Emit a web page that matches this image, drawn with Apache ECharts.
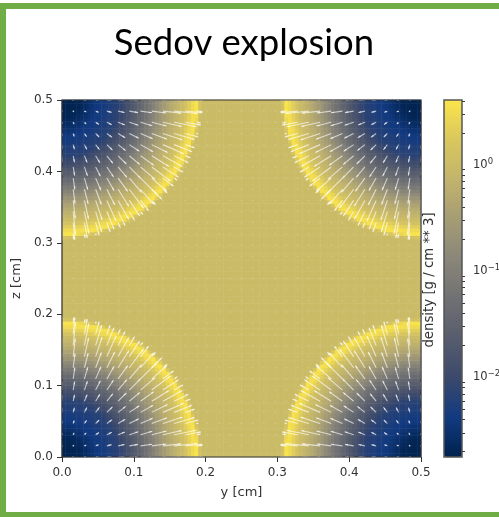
<!DOCTYPE html>
<html><head><meta charset="utf-8">
<style>html,body{margin:0;padding:0;background:#fff}#c{width:499px;height:517px;filter:blur(0.55px)}</style>
<script src="https://cdn.jsdelivr.net/npm/echarts@6/dist/echarts.min.js"></script>
</head><body><div id="c"></div>
<script>
const titleText = 'Sedov explosion';
const xName = 'y [cm]';
const yName = 'z [cm]';
const barName = 'density [g / cm ** 3]';
const barMajor = [0, -1, -2];
const barMinor = [0.602,0.477,0.301,-0.046,-0.097,-0.155,-0.222,-0.301,-0.398,-0.523,-0.699,-1.046,-1.097,-1.155,-1.222,-1.301,-1.398,-1.523,-1.699,-2.046,-2.097,-2.155,-2.222,-2.301,-2.398,-2.523,-2.699];
const logMin = -2.75, logMax = 0.61;
const cellCount = 100;
// log10(density) x100, corner octant of one blast, rows out from the corner;
// anything past the end of a row is the uniform ambient gas (10^0)
const densityOctant = [
[-274],
[-273,-273],
[-272,-272,-272],
[-272,-271,-271,-270],
[-270,-270,-269,-266,-262],
[-267,-266,-264,-261,-257,-253],
[-261,-260,-258,-256,-253,-249,-245],
[-255,-254,-253,-250,-248,-244,-240,-238],
[-249,-248,-247,-245,-242,-240,-237,-235,-232],
[-243,-242,-241,-240,-238,-236,-234,-232,-228,-225],
[-238,-237,-237,-236,-234,-233,-230,-227,-225,-222,-220],
[-234,-234,-233,-232,-230,-228,-226,-224,-222,-219,-217,-212],
[-230,-229,-228,-227,-226,-224,-223,-221,-219,-216,-211,-204,-197],
[-225,-225,-224,-223,-222,-221,-219,-217,-215,-209,-203,-196,-188,-180],
[-221,-221,-220,-219,-218,-217,-215,-211,-206,-200,-194,-187,-179,-172,-164],
[-217,-217,-216,-215,-213,-210,-206,-202,-197,-191,-185,-178,-171,-163,-155,-146],
[-209,-209,-207,-205,-203,-200,-196,-192,-187,-181,-175,-169,-162,-154,-145,-137,-129],
[-198,-198,-197,-195,-192,-189,-185,-181,-176,-171,-165,-159,-151,-144,-136,-128,-119,-109],
[-187,-187,-185,-183,-181,-178,-174,-170,-166,-160,-155,-148,-141,-134,-126,-118,-108,-98,-88],
[-175,-175,-174,-172,-170,-167,-163,-159,-155,-149,-143,-137,-131,-124,-116,-106,-97,-87,-77,-66],
[-164,-163,-162,-160,-158,-155,-152,-147,-143,-137,-133,-126,-120,-112,-103,-94,-85,-76,-66,-56,-48],
[-151,-151,-149,-148,-145,-143,-139,-136,-131,-126,-121,-114,-107,-99,-91,-82,-73,-64,-56,-48,-39,-31],
[-139,-138,-137,-136,-134,-131,-128,-124,-119,-114,-108,-101,-94,-86,-78,-70,-62,-54,-46,-38,-31,-24,-17],
[-126,-126,-125,-123,-121,-118,-114,-110,-105,-100,-94,-88,-81,-73,-66,-58,-51,-44,-36,-30,-23,-16,-10,-3],
[-112,-112,-111,-109,-106,-103,-100,-96,-91,-86,-80,-74,-67,-60,-54,-48,-41,-34,-28,-22,-16,-9,-2,4,15],
[-97,-97,-96,-94,-92,-89,-85,-81,-77,-72,-66,-60,-55,-49,-44,-37,-31,-26,-20,-14,-8,-2,5,15,27,41],
[-82,-82,-81,-79,-77,-74,-71,-67,-63,-58,-54,-49,-44,-38,-33,-28,-23,-17,-12,-6,0,7,16,28,41,52,57],
[-67,-66,-65,-64,-62,-59,-57,-54,-51,-47,-43,-37,-33,-29,-24,-19,-14,-9,-4,2,9,19,31,43,52,58,30,3],
[-54,-54,-53,-51,-50,-48,-45,-42,-38,-35,-31,-28,-24,-20,-15,-11,-6,-1,5,13,22,34,45,54,58,28,2],
[-41,-41,-40,-39,-37,-35,-33,-31,-28,-25,-22,-18,-15,-11,-6,-2,3,9,17,27,38,48,55,53,22,0],
[-30,-30,-29,-28,-27,-25,-23,-21,-18,-16,-12,-9,-5,-1,3,8,15,23,33,43,51,56,45,15],
[-20,-20,-19,-18,-17,-15,-13,-11,-9,-6,-3,0,4,9,15,22,31,41,48,55,58,33,9],
[-10,-10,-9,-8,-7,-5,-4,-1,1,4,7,12,17,24,32,40,47,54,57,45,19,1],
[0,0,1,2,3,4,7,10,13,17,22,28,35,42,48,54,56,49,26,7],
[13,13,14,15,17,19,22,26,31,36,41,46,50,55,57,48,28,10],
[30,31,32,33,36,38,41,44,48,51,55,56,57,41,22,8],
[48,48,49,50,52,54,55,56,57,53,41,26,12],
[58,58,58,56,51,45,36,28,18,10,2],
[15,14,12,10,7,3]
];
// arrow spacing, and arrow x-extent (in 0.001 cm) near one corner, rows going away from the corner.
// z-extent is the same table transposed.
const arrowStep = 0.015625;
const arrowCount = 33;
const arrowU = [
[0,1.2,2.5,4,6.5,9,12,16,20,25,33,25,9],
[0,1.2,2.6,4.2,6.6,9.1,12.1,16.1,20.1,25.3,32.4,23.9,8.2],
[0,1.3,2.6,4.6,6.9,9.5,12.6,16.4,20.6,26.2,30.8,21.6,5.9],
[0,1.4,3,5,7.2,9.9,13.2,17,21.3,27.4,28.3,17.9,2.2],
[0,1.7,3.4,5.4,7.8,10.6,14,17.6,22.1,29,24.9,13,0],
[0,1.8,3.8,5.9,8.5,11.5,14.8,18.7,24.1,26.7,19.7,7,0],
[0,2,4.2,6.6,9.3,12.3,15.9,20.3,26.4,22,12.4,0,0],
[0,2.3,4.7,7.3,10.1,13.4,17.4,22.6,21.1,14.7,4.5,0,0],
[0,2.5,5.2,8,11,15.1,19.8,18.4,14.1,6.1,0,0,0],
[0,2.8,5.8,9.1,12.9,14.9,14.6,11.4,5.4,0,0,0,0],
[0,3.2,6.2,8.5,10,9.8,7.5,3.2,0,0,0,0,0],
[0,2.2,3.9,4.9,4.7,3.2,0,0,0,0,0,0,0],
[0,.7,1,.6,0,0,0,0,0,0,0,0,0]
];
const colormap = ['#00224e','#123a80','#3b496c','#575d6d','#707173','#8a8678','#a59c74','#c2b46c','#d9c75e','#fbe54a'];

const ink = '#333333', font = '"DejaVu Sans"';
const cells = [...Array(cellCount).keys()];
const heat = [];
for (const r of cells) for (const c of cells) {
  const i = Math.min(c, cellCount - 1 - c), j = Math.min(r, cellCount - 1 - r);
  const row = densityOctant[Math.max(i, j)];
  const v = row ? row[Math.min(i, j)] : 0;
  heat.push([c, r, (v === undefined ? 0 : v) / 100]);
}
const arrows = [];
const half = (arrowCount - 1) / 2;
for (let a = 0; a < arrowCount; a++) for (let b = 0; b < arrowCount; b++) {
  const i = Math.min(a, arrowCount - 1 - a), j = Math.min(b, arrowCount - 1 - b);
  const inTable = i < arrowU.length && j < arrowU.length;
  const u = inTable ? arrowU[j][i] / 1000 : 0, v = inTable ? arrowU[i][j] / 1000 : 0;
  arrows.push([a * arrowStep, b * arrowStep, a < half ? u : -u, b < half ? v : -v]);
}
function renderArrow(p, api) {
  const x = api.value(0), y = api.value(1), u = api.value(2), v = api.value(3);
  const s = api.coord([x, y]);
  if (u === 0 && v === 0) {
    return {type:'circle', shape:{cx:s[0], cy:s[1], r:0.7}, style:{fill:'rgba(255,255,255,0.28)'}};
  }
  const e = api.coord([x + u, y + v]);
  const dx = e[0]-s[0], dy = e[1]-s[1], L = Math.hypot(dx,dy) || 1;
  const ux = dx/L, uy = dy/L, hl = Math.min(3, Math.max(L*0.7, 2)), hw = 1;
  return {type:'group', children:[
    {type:'line', shape:{x1:s[0],y1:s[1],x2:e[0],y2:e[1]}, style:{stroke:'rgba(255,255,255,0.65)', lineWidth:1.1}},
    {type:'polygon', shape:{points:[[e[0],e[1]],[e[0]-ux*hl-uy*hw,e[1]-uy*hl+ux*hw],[e[0]-ux*hl+uy*hw,e[1]-uy*hl-ux*hw]]}, style:{fill:'rgba(255,255,255,0.6)'}}
  ]};
}
const axisCommon = {
  type:'value', min:0, max:0.5, interval:0.1,
  axisLine:{show:false}, splitLine:{show:false},
  axisTick:{show:true, length:5, lineStyle:{color:ink, width:1}},
  axisLabel:{show:true, color:ink, fontFamily:font, fontSize:12, formatter:v => v.toFixed(1)},
  nameLocation:'middle', nameTextStyle:{color:ink, fontFamily:font, fontSize:13}
};
const chart = echarts.init(document.getElementById('c'), null, {renderer:'canvas'});
chart.setOption({
  animation:false,
  backgroundColor:'#fff',
  title:{text:titleText, left:239, top:20, textAlign:'center', textStyle:{fontFamily:'Lato', fontWeight:'normal', fontSize:36.5, color:'#000'}},
  grid:[
    {left:62, top:100, width:359, height:357, show:true, z:10, backgroundColor:'transparent', borderColor:ink, borderWidth:1.2, outerBoundsMode:'none'},
    {left:444, top:100, width:18, height:357, show:true, z:10, backgroundColor:'transparent', borderColor:'#555', borderWidth:1.5, outerBoundsMode:'none'}
  ],
  xAxis:[
    {type:'category', gridIndex:0, data:cells, show:false},
    {...axisCommon, axisLabel:{...axisCommon.axisLabel, margin:10}, gridIndex:0, position:'bottom', name:xName, nameGap:29},
    {type:'value', gridIndex:1, min:0, max:1, show:false}
  ],
  yAxis:[
    {type:'category', gridIndex:0, data:cells, show:false},
    {...axisCommon, axisLabel:{...axisCommon.axisLabel, margin:9}, gridIndex:0, position:'left', name:yName, nameGap:22},
    {type:'value', gridIndex:1, min:logMin, max:logMax, position:'right', splitLine:{show:false}, axisLine:{show:false},
     axisTick:{show:true, length:4, customValues:barMajor, lineStyle:{color:ink}},
     axisLabel:{show:true, customValues:barMajor, margin:11, fontFamily:font, color:ink,
       formatter:v => `{b|10}{s|${v === 0 ? '0' : '\u2212' + (-v)}}`,
       rich:{b:{fontSize:11.5, color:ink, fontFamily:font}, s:{fontSize:8.5, color:ink, fontFamily:font, padding:[0,0,7,0]}}}},
    {type:'value', gridIndex:1, min:logMin, max:logMax, position:'right', splitLine:{show:false}, axisLine:{show:false},
     axisTick:{show:true, length:3, customValues:barMinor, lineStyle:{color:ink}}, axisLabel:{show:false}}
  ],
  visualMap:{type:'continuous', seriesIndex:0, dimension:2, min:logMin, max:logMax, calculable:false, padding:0,
    left:444, top:100, itemWidth:18, itemHeight:357, text:null, showLabel:false, inRange:{color:colormap}},
  series:[
    {type:'heatmap', xAxisIndex:0, yAxisIndex:0, data:heat, progressive:0, silent:true, emphasis:{disabled:true}},
    {type:'custom', xAxisIndex:1, yAxisIndex:1, data:arrows, renderItem:renderArrow, silent:true, z:5, clip:true, encode:{x:0,y:1}}
  ],
  graphic:[
    {type:'rect', silent:true, z:20, shape:{x:0,y:3,width:499,height:6}, style:{fill:'#70ad47'}},
    {type:'rect', silent:true, z:20, shape:{x:0,y:3,width:6,height:514}, style:{fill:'#70ad47'}},
    {type:'rect', silent:true, z:20, shape:{x:0,y:512,width:499,height:5}, style:{fill:'#70ad47'}},
    {type:'text', silent:true, z:20, x:430, y:280, rotation:Math.PI/2, style:{text:barName, fill:ink, font:'13.3px "DejaVu Sans"', textAlign:'center', textVerticalAlign:'middle'}}
  ]
});
</script></body></html>
